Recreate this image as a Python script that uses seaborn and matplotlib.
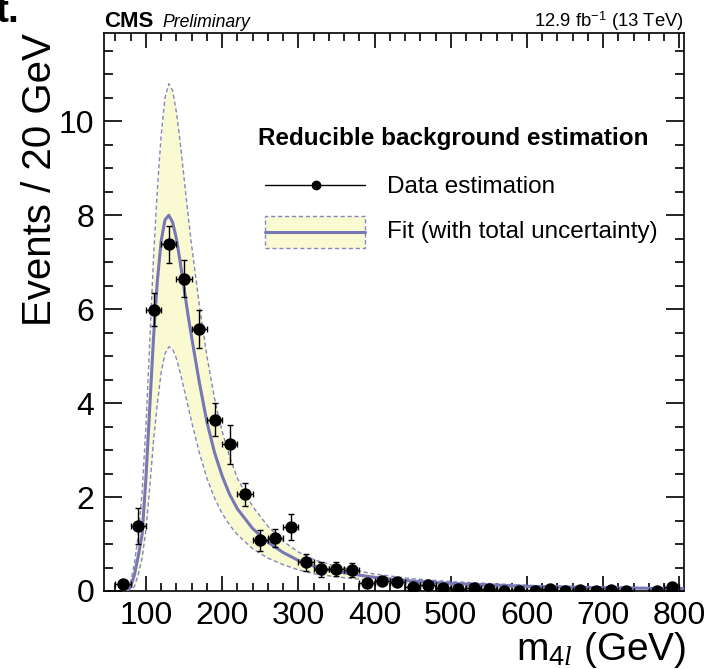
import numpy as np
import matplotlib
matplotlib.use("Agg")
import matplotlib.pyplot as plt
from matplotlib.patches import Rectangle
import seaborn as sns

# ---- reducible background estimate, 20 GeV bins ----
mass = [70, 90, 110, 130, 150, 170, 190, 210, 230, 250, 270, 290, 310, 330,
        350, 370, 390, 410, 430, 450, 470, 490, 510, 530, 550, 570, 590, 610,
        630, 650, 670, 690, 710, 730, 770, 790]
events = [0.15, 1.39, 5.99, 7.38, 6.65, 5.58, 3.65, 3.12, 2.06, 1.08, 1.13,
          1.37, 0.61, 0.46, 0.47, 0.45, 0.17, 0.22, 0.19, 0.08, 0.13, 0.07,
          0.035, 0.07, 0.035, 0.01, 0.01, 0.01, 0.04, 0.01, 0.03, 0.01, 0.02,
          0.005, 0.01, 0.08]
events_err = [0.03, 0.38, 0.35, 0.40, 0.39, 0.41, 0.345, 0.41, 0.25, 0.22,
              0.20, 0.28, 0.18, 0.16, 0.15, 0.15, 0.08, 0.08, 0.08, 0.05,
              0.05, 0.04, 0.03, 0.04, 0.03, 0.02, 0.02, 0.02, 0.03, 0.02,
              0.03, 0.02, 0.02, 0.02, 0.02, 0.04]
bin_half_width = 10

# ---- fitted shape with its total uncertainty band ----
fit_mass = [76, 80, 85, 90, 95, 100, 105, 110, 115, 120, 125, 130, 135, 140,
            145, 150, 155, 160, 170, 180, 190, 200, 210, 220, 240, 260, 280,
            300, 320, 350, 400, 450, 500, 600, 700, 806]
fit_central = [0.0, 0.1, 0.35, 0.75, 1.2, 2.4, 3.9, 5.4, 6.6, 7.45, 7.9, 8.0,
               7.85, 7.5, 7.0, 6.45, 5.9, 5.4, 4.45, 3.6, 2.95, 2.45, 2.05,
               1.75, 1.33, 1.04, 0.82, 0.65, 0.53, 0.41, 0.29, 0.21, 0.16,
               0.10, 0.07, 0.05]
fit_up = [0.02, 0.2, 0.6, 1.2, 2.1, 3.5, 5.3, 7.1, 8.55, 9.7, 10.5, 10.8,
          10.65, 10.2, 9.55, 8.8, 8.05, 7.35, 6.1, 5.0, 4.1, 3.4, 2.85, 2.4,
          1.8, 1.38, 1.06, 0.83, 0.67, 0.52, 0.36, 0.26, 0.20, 0.12, 0.085,
          0.06]
fit_down = [0.0, 0.0, 0.1, 0.35, 0.7, 1.3, 2.2, 3.2, 4.0, 4.65, 5.05, 5.2,
            5.15, 4.95, 4.65, 4.3, 3.95, 3.6, 2.95, 2.4, 1.98, 1.65, 1.4, 1.2,
            0.9, 0.7, 0.56, 0.45, 0.37, 0.30, 0.22, 0.16, 0.125, 0.08, 0.055,
            0.04]

sns.set_theme(style="ticks")
plt.rcParams["font.family"] = ["Liberation Sans", "DejaVu Sans"]
plt.rcParams["text.color"] = "black"
plt.rcParams["axes.labelcolor"] = "black"
plt.rcParams["mathtext.fontset"] = "custom"
plt.rcParams["mathtext.rm"] = "Liberation Sans"
plt.rcParams["mathtext.it"] = "Liberation Serif:italic"
plt.rcParams["mathtext.bf"] = "Liberation Sans:bold"

W, H = 716, 669
fig = plt.figure(figsize=(W / 100, H / 100), dpi=100)
AX_L, AX_R, AX_T, AX_B = 104, 684, 33, 591
ax = fig.add_axes([AX_L / W, 1 - AX_B / H, (AX_R - AX_L) / W, (AX_B - AX_T) / H])

band_fill = "#fafad2"
band_edge = "#8585c2"
fit_color = "#7777b5"

ax.fill_between(fit_mass, fit_down, fit_up, color=band_fill, lw=0, zorder=1)
ax.plot(fit_mass, fit_up, color=band_edge, lw=1.0, ls=(0, (3, 2)), zorder=2)
ax.plot(fit_mass, fit_down, color=band_edge, lw=1.0, ls=(0, (3, 2)), zorder=2)
sns.lineplot(x=fit_mass, y=fit_central, ax=ax, color=fit_color, lw=2.2,
             sort=False, estimator=None, zorder=3)

ax.errorbar(mass, events, yerr=events_err, xerr=bin_half_width, fmt="none",
            ecolor="black", elinewidth=1.0, capsize=2.2, capthick=1.0, zorder=4)
sns.scatterplot(x=mass, y=events, ax=ax, color="black", s=80, edgecolor="black",
                linewidth=0, zorder=5)

ax.set_xlim(45, 806)
ax.set_ylim(0, 11.88)
ax.set_xticks([100, 200, 300, 400, 500, 600, 700, 800])
ax.set_xticks(np.arange(60, 806, 20), minor=True)
ax.set_yticks([0, 2, 4, 6, 8, 10])
ax.set_yticks(np.arange(0, 11.88, 0.5), minor=True)
ax.set_xlabel("")
ax.set_ylabel("")

for s in ax.spines.values():
    s.set_linewidth(1.2)
    s.set_color("black")
ax.tick_params(axis="both", which="both", direction="in", top=True, right=True,
               colors="black", width=1.2, labelsize=23, pad=7)
ax.tick_params(axis="y", which="major", length=13)
ax.tick_params(axis="y", which="minor", length=6.5)
ax.tick_params(axis="x", which="major", length=11)
ax.tick_params(axis="x", which="minor", length=5.5)


def fx(px):
    return px / W


def fy(py):
    return 1 - py / H


# axis titles
fig.text(fx(40), fy(AX_T), "Events / 20 GeV", rotation=90, ha="center", va="top",
         fontsize=29)
fig.text(fx(686), fy(660), r"m$_{4\mathit{l}}$ (GeV)", ha="right", va="baseline",
         fontsize=28)

# header
fig.text(fx(104), fy(27), "CMS", fontsize=16, fontweight="bold", va="baseline")
fig.text(fx(162), fy(27), "Preliminary", fontsize=12.7, style="italic",
         va="baseline")
fig.text(fx(684), fy(27), r"12.9 fb$^{-1}$ (13 TeV)", fontsize=13.3, ha="right",
         va="baseline")
fig.text(fx(19.5), fy(22), "t.", fontsize=28, fontweight="bold", ha="right",
         va="baseline")


# legend drawn in axes coordinates
def axx(px):
    return (px - AX_L) / (AX_R - AX_L)


def axy(py):
    return (AX_B - py) / (AX_B - AX_T)


tr = ax.transAxes
ax.text(axx(258), axy(145), "Reducible background estimation", transform=tr,
        fontsize=17.5, fontweight="bold", va="baseline")
ax.plot([axx(265), axx(365)], [axy(185), axy(185)], color="black", lw=1.0,
        transform=tr, clip_on=False)
ax.plot([axx(315.5)], [axy(185)], marker="o", ms=6, color="black", transform=tr,
        clip_on=False)
ax.text(axx(386.7), axy(193), "Data estimation", transform=tr, fontsize=17.5,
        va="baseline")
ax.add_patch(Rectangle((axx(265), axy(247.7)), axx(365) - axx(265),
                       axy(216) - axy(247.7), transform=tr, facecolor=band_fill,
                       edgecolor=band_edge, lw=1.0, ls=(0, (3, 2))))
ax.plot([axx(265), axx(365)], [axy(231.7), axy(231.7)], color=fit_color, lw=2.2,
        transform=tr)
ax.text(axx(386.7), axy(238), "Fit (with total uncertainty)", transform=tr,
        fontsize=17.5, va="baseline")

fig.savefig("out.png", dpi=100)
